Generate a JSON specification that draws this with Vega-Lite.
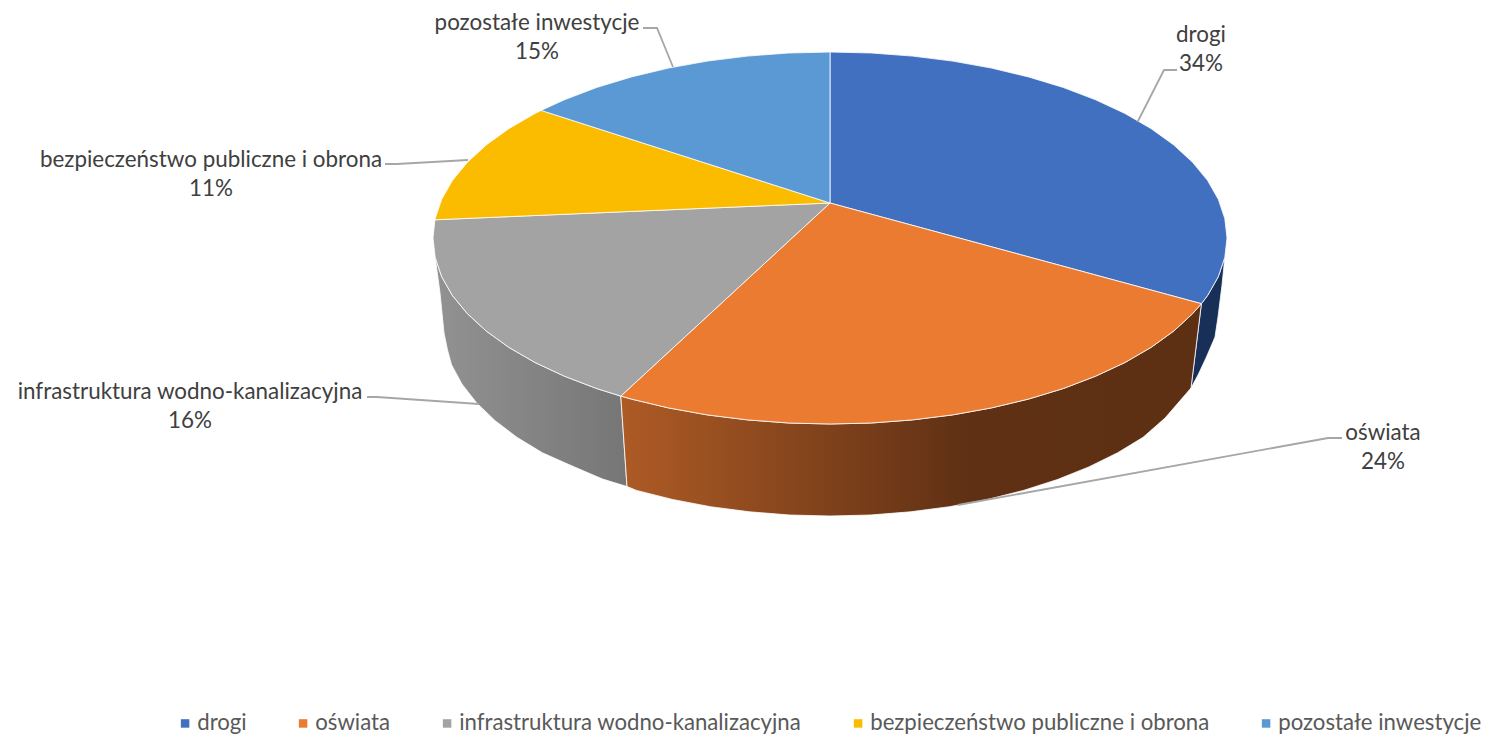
{
"$schema":"https://vega.github.io/schema/vega-lite/v6.json",
"width":1485,"height":734,"padding":0,"autosize":{"type":"none"},"background":"#ffffff",
"config":{"view":{"stroke":null}},
"datasets":{
"bokNiebieski":[{"x":1201.4,"y":303.7},{"x":1207.6,"y":295.5},{"x":1218.3,"y":276.7},{"x":1224.8,"y":257.4},{"x":1222,"y":285},{"x":1218,"y":317},{"x":1215,"y":337},{"x":1206,"y":358},{"x":1198,"y":375},{"x":1191,"y":388}],
"bokSzary":[{"x":620.8,"y":396.1},{"x":596.6,"y":388.5},{"x":564.4,"y":376.2},{"x":535,"y":362.5},{"x":508.8,"y":347.3},{"x":486.2,"y":331},{"x":467.3,"y":313.6},{"x":452.4,"y":295.5},{"x":441.7,"y":276.7},{"x":435.2,"y":257.4},{"x":440,"y":293},{"x":444,"y":333},{"x":447.5,"y":350},{"x":451.5,"y":364.7},{"x":461.9,"y":384},{"x":476.5,"y":402.7},{"x":494.9,"y":420.5},{"x":516.9,"y":437.3},{"x":542.4,"y":452.8},{"x":571,"y":465.5},{"x":602.5,"y":479},{"x":627,"y":486.5}],
"bokPomaranczowy":[{"x":620.8,"y":396.1},{"x":631.5,"y":399.1},{"x":668.5,"y":407.9},{"x":707.3,"y":414.9},{"x":747.5,"y":419.9},{"x":788.5,"y":423},{"x":830,"y":424},{"x":871.5,"y":423},{"x":912.5,"y":419.9},{"x":952.7,"y":414.9},{"x":991.5,"y":407.9},{"x":1028.5,"y":399.1},{"x":1063.4,"y":388.5},{"x":1095.6,"y":376.2},{"x":1125,"y":362.5},{"x":1151.2,"y":347.3},{"x":1173.8,"y":331},{"x":1192.7,"y":313.6},{"x":1201.4,"y":303.7},{"x":1191,"y":388},{"x":1172,"y":410},{"x":1165.1,"y":418},{"x":1143.1,"y":437.3},{"x":1117.6,"y":452.8},{"x":1088.9,"y":466.9},{"x":1057.5,"y":479.5},{"x":1023.5,"y":490.4},{"x":987.4,"y":499.5},{"x":949.6,"y":506.7},{"x":910.5,"y":511.8},{"x":870.4,"y":515},{"x":830,"y":516},{"x":789.6,"y":515},{"x":749.5,"y":511.8},{"x":710.4,"y":506.7},{"x":672.6,"y":499.5},{"x":636.5,"y":490.4},{"x":627,"y":486.5}],
"gora":[
{"k":"drogi","x":830,"y":203},{"k":"drogi","x":830,"y":52},{"k":"drogi","x":871.5,"y":53},{"k":"drogi","x":912.5,"y":56.1},{"k":"drogi","x":952.7,"y":61.1},{"k":"drogi","x":991.5,"y":68.1},{"k":"drogi","x":1028.5,"y":76.9},{"k":"drogi","x":1063.4,"y":87.5},{"k":"drogi","x":1095.6,"y":99.8},{"k":"drogi","x":1125,"y":113.5},{"k":"drogi","x":1151.2,"y":128.7},{"k":"drogi","x":1173.8,"y":145},{"k":"drogi","x":1192.7,"y":162.4},{"k":"drogi","x":1207.6,"y":180.5},{"k":"drogi","x":1218.3,"y":199.3},{"k":"drogi","x":1224.8,"y":218.6},{"k":"drogi","x":1227,"y":238},{"k":"drogi","x":1224.8,"y":257.4},{"k":"drogi","x":1218.3,"y":276.7},{"k":"drogi","x":1207.6,"y":295.5},{"k":"drogi","x":1201.4,"y":303.7},
{"k":"oświata","x":830,"y":203},{"k":"oświata","x":1201.4,"y":303.7},{"k":"oświata","x":1192.7,"y":313.6},{"k":"oświata","x":1173.8,"y":331},{"k":"oświata","x":1151.2,"y":347.3},{"k":"oświata","x":1125,"y":362.5},{"k":"oświata","x":1095.6,"y":376.2},{"k":"oświata","x":1063.4,"y":388.5},{"k":"oświata","x":1028.5,"y":399.1},{"k":"oświata","x":991.5,"y":407.9},{"k":"oświata","x":952.7,"y":414.9},{"k":"oświata","x":912.5,"y":419.9},{"k":"oświata","x":871.5,"y":423},{"k":"oświata","x":830,"y":424},{"k":"oświata","x":788.5,"y":423},{"k":"oświata","x":747.5,"y":419.9},{"k":"oświata","x":707.3,"y":414.9},{"k":"oświata","x":668.5,"y":407.9},{"k":"oświata","x":631.5,"y":399.1},{"k":"oświata","x":620.8,"y":396.1},
{"k":"infrastruktura wodno-kanalizacyjna","x":830,"y":203},{"k":"infrastruktura wodno-kanalizacyjna","x":620.8,"y":396.1},{"k":"infrastruktura wodno-kanalizacyjna","x":596.6,"y":388.5},{"k":"infrastruktura wodno-kanalizacyjna","x":564.4,"y":376.2},{"k":"infrastruktura wodno-kanalizacyjna","x":535,"y":362.5},{"k":"infrastruktura wodno-kanalizacyjna","x":508.8,"y":347.3},{"k":"infrastruktura wodno-kanalizacyjna","x":486.2,"y":331},{"k":"infrastruktura wodno-kanalizacyjna","x":467.3,"y":313.6},{"k":"infrastruktura wodno-kanalizacyjna","x":452.4,"y":295.5},{"k":"infrastruktura wodno-kanalizacyjna","x":441.7,"y":276.7},{"k":"infrastruktura wodno-kanalizacyjna","x":435.2,"y":257.4},{"k":"infrastruktura wodno-kanalizacyjna","x":433,"y":238},{"k":"infrastruktura wodno-kanalizacyjna","x":434.9,"y":219.8},
{"k":"bezpieczeństwo publiczne i obrona","x":830,"y":203},{"k":"bezpieczeństwo publiczne i obrona","x":434.9,"y":219.8},{"k":"bezpieczeństwo publiczne i obrona","x":435.2,"y":218.6},{"k":"bezpieczeństwo publiczne i obrona","x":441.7,"y":199.3},{"k":"bezpieczeństwo publiczne i obrona","x":452.4,"y":180.5},{"k":"bezpieczeństwo publiczne i obrona","x":467.3,"y":162.4},{"k":"bezpieczeństwo publiczne i obrona","x":486.2,"y":145},{"k":"bezpieczeństwo publiczne i obrona","x":508.8,"y":128.7},{"k":"bezpieczeństwo publiczne i obrona","x":535,"y":113.5},{"k":"bezpieczeństwo publiczne i obrona","x":541.1,"y":110.4},
{"k":"pozostałe inwestycje","x":830,"y":203},{"k":"pozostałe inwestycje","x":541.1,"y":110.4},{"k":"pozostałe inwestycje","x":564.4,"y":99.8},{"k":"pozostałe inwestycje","x":596.6,"y":87.5},{"k":"pozostałe inwestycje","x":631.5,"y":76.9},{"k":"pozostałe inwestycje","x":668.5,"y":68.1},{"k":"pozostałe inwestycje","x":707.3,"y":61.1},{"k":"pozostałe inwestycje","x":747.5,"y":56.1},{"k":"pozostałe inwestycje","x":788.5,"y":53},{"k":"pozostałe inwestycje","x":830,"y":52}
],
"linie":[
{"k":"drogi","x":1137.5,"y":122},{"k":"drogi","x":1164,"y":70},{"k":"drogi","x":1177,"y":70},
{"k":"oświata","x":958,"y":505},{"k":"oświata","x":1328,"y":438},{"k":"oświata","x":1342,"y":438},
{"k":"infrastruktura","x":479,"y":404},{"k":"infrastruktura","x":377,"y":397},{"k":"infrastruktura","x":367,"y":397},
{"k":"bezpieczeństwo","x":468,"y":160},{"k":"bezpieczeństwo","x":397,"y":164},{"k":"bezpieczeństwo","x":385,"y":164},
{"k":"pozostałe","x":673,"y":67},{"k":"pozostałe","x":657,"y":28},{"k":"pozostałe","x":643,"y":28}
],
"etykiety":[
{"t":"drogi\n34%","x":1201,"y":35},
{"t":"oświata\n24%","x":1383,"y":433},
{"t":"infrastruktura wodno-kanalizacyjna\n16%","x":190,"y":392},
{"t":"bezpieczeństwo publiczne i obrona\n11%","x":211,"y":160},
{"t":"pozostałe inwestycje\n15%","x":537,"y":23}
]
},
"encoding":{
"x":{"field":"x","type":"quantitative","scale":{"domain":[0,1485],"nice":false,"zero":false},"axis":null},
"y":{"field":"y","type":"quantitative","scale":{"domain":[734,0],"nice":false,"zero":false},"axis":null}
},
"layer":[
{"data":{"name":"bokNiebieski"},"mark":{"type":"line","interpolate":"linear-closed","fill":"#182F57","stroke":"#ffffff","strokeWidth":0.8},"encoding":{"order":{"value":null}}},
{"data":{"name":"bokSzary"},"mark":{"type":"line","interpolate":"linear-closed","fill":{"x1":0,"y1":0,"x2":1,"y2":0,"gradient":"linear","stops":[{"offset":0,"color":"#929292"},{"offset":1,"color":"#767676"}]},"stroke":"#ffffff","strokeWidth":0.8},"encoding":{"order":{"value":null}}},
{"data":{"name":"bokPomaranczowy"},"mark":{"type":"line","interpolate":"linear-closed","fill":{"x1":0,"y1":0,"x2":1,"y2":0,"gradient":"linear","stops":[{"offset":0,"color":"#AE5B25"},{"offset":0.6,"color":"#5F3014"},{"offset":1,"color":"#5D2F13"}]},"stroke":"#ffffff","strokeWidth":0.8},"encoding":{"order":{"value":null}}},
{"data":{"name":"gora"},"mark":{"type":"line","interpolate":"linear-closed","stroke":"#ffffff","strokeWidth":0.8},
 "encoding":{"order":{"value":null},"fill":{"field":"k","type":"nominal","scale":{"domain":["drogi","oświata","infrastruktura wodno-kanalizacyjna","bezpieczeństwo publiczne i obrona","pozostałe inwestycje"],"range":["#4270C1","#EB7B31","#A3A3A3","#FBBC00","#5A99D4"]},
 "legend":{"title":null,"orient":"none","legendX":174,"legendY":712,"direction":"horizontal","columns":5,"columnPadding":45,"symbolType":"square","symbolSize":72,"symbolStrokeWidth":0,"symbolOffset":0,"labelOffset":1,"labelFont":"Lato","labelFontSize":22.2,"labelColor":"#595959","labelLimit":500}}}},
{"data":{"name":"linie"},"mark":{"type":"line","stroke":"#A6A6A6","strokeWidth":1.8},"encoding":{"order":{"value":null},"detail":{"field":"k"}}},
{"data":{"name":"etykiety"},"mark":{"type":"text","font":"Lato","fontSize":22.4,"color":"#404040","lineBreak":"\n","lineHeight":29,"align":"center","baseline":"middle"},"encoding":{"text":{"field":"t"}}}
]
}
